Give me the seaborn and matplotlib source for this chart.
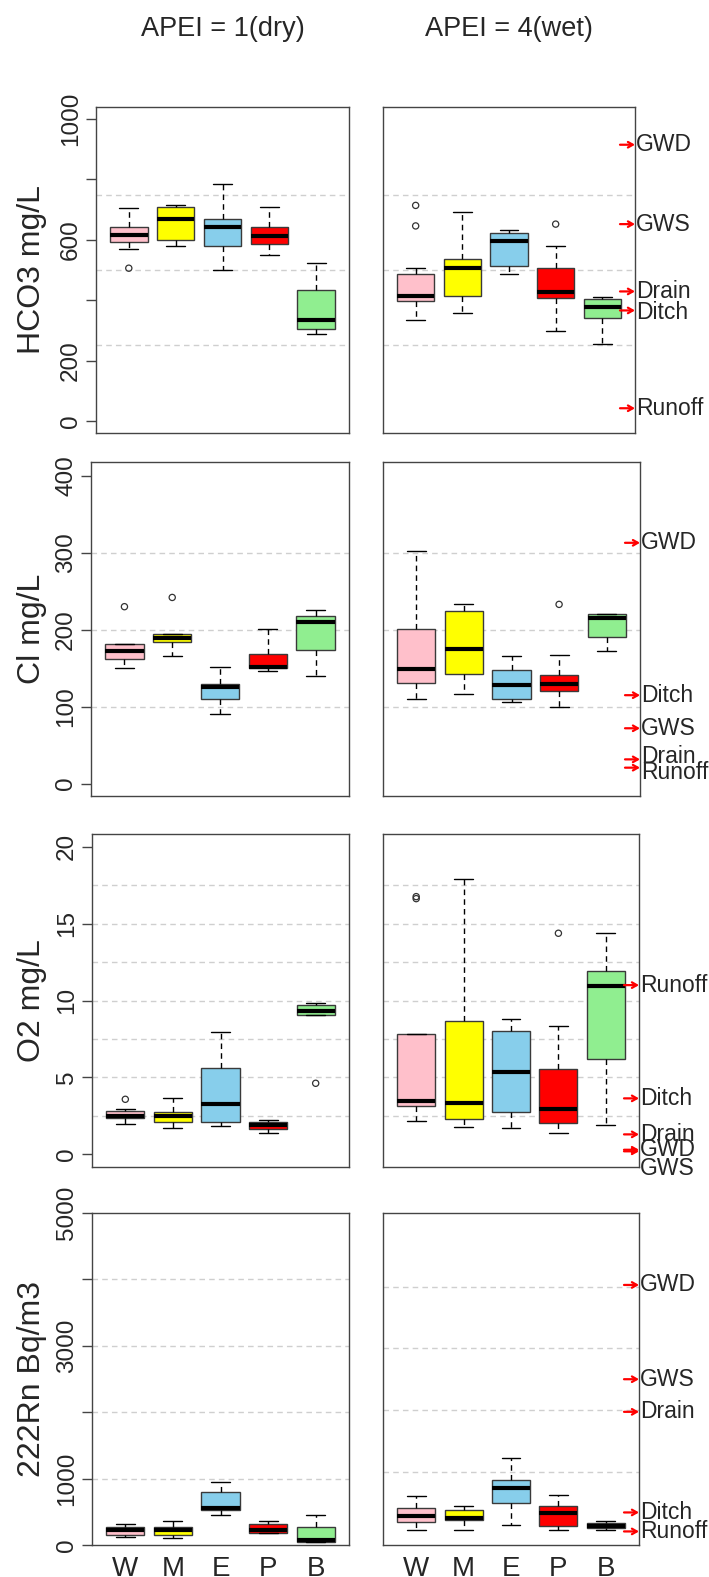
import numpy as np
import pandas as pd
import matplotlib
matplotlib.use("Agg")
import matplotlib.pyplot as plt
import seaborn as sns
from matplotlib.transforms import blended_transform_factory

# ---------------- data ----------------
sites = ["W", "M", "E", "P", "B"]
site_colors = ["#FFC0CB", "#FFFF00", "#87CEEB", "#FF0000", "#90EE90"]
col_titles = ["APEI = 1(dry)", "APEI = 4(wet)"]
row_labels = ["HCO3 mg/L", "Cl mg/L", "O2 mg/L", "222Rn Bq/m3"]

# each row: [lower whisker, Q1, median, Q3, upper whisker] for W, M, E, P, B
hco3_dry = [[571, 592, 617, 641, 705], [581, 598, 670, 708, 714], [501, 581, 644, 670, 785],
            [549, 586, 611, 641, 708], [287, 303, 333, 435, 522]]
hco3_wet = [[335, 397, 414, 486, 505], [358, 413, 508, 536, 693], [486, 513, 596, 622, 634],
            [299, 408, 427, 505, 581], [254, 340, 379, 403, 409]]
cl_dry = [[150, 162, 172, 181, 181], [166, 184, 189, 195, 195], [90, 110, 125, 130, 152],
          [146, 150, 151, 169, 201], [140, 174, 210, 218, 226]]
cl_wet = [[110, 131, 149, 201, 302], [117, 143, 175, 224, 234], [106, 110, 128, 148, 166],
          [100, 120, 130, 141, 167], [172, 191, 215, 220, 220]]
o2_dry = [[1.95, 2.36, 2.49, 2.80, 2.97], [1.71, 2.08, 2.49, 2.73, 3.68], [1.84, 2.08, 3.25, 5.63, 7.95],
          [1.37, 1.65, 1.91, 2.10, 2.25], [9.06, 9.06, 9.34, 9.69, 9.82]]
o2_wet = [[2.17, 3.14, 3.49, 7.82, 7.82], [1.78, 2.30, 3.32, 8.65, 17.88], [1.71, 2.73, 5.35, 8.00, 8.82],
          [1.37, 2.06, 2.97, 5.57, 8.36], [1.91, 6.18, 10.94, 11.92, 14.37]]
rn_dry = [[120, 151, 221, 271, 316], [105, 156, 231, 271, 356], [452, 532, 557, 793, 944],
          [176, 176, 231, 316, 356], [40, 50, 70, 271, 452]]
rn_wet = [[57, 187, 279, 408, 598], [57, 214, 246, 376, 436], [128, 484, 738, 868, 1224],
          [57, 111, 322, 436, 619], [52, 79, 117, 160, 192]]

# outliers (site, value)
hco3_dry_out_site, hco3_dry_out_val = ["W"], [506]
hco3_wet_out_site, hco3_wet_out_val = ["W", "W", "P"], [714, 646, 652]
cl_dry_out_site, cl_dry_out_val = ["W", "M"], [230, 242]
cl_wet_out_site, cl_wet_out_val = ["P"], [233]
o2_dry_out_site, o2_dry_out_val = ["W", "B"], [3.58, 4.62]
o2_wet_out_site, o2_wet_out_val = ["W", "W", "P"], [16.75, 16.62, 14.37]
rn_dry_out_site, rn_dry_out_val = [], []
rn_wet_out_site, rn_wet_out_val = [], []

# reference water sources (marked on the wet panels)
hco3_ref_names = ["GWD", "GWS", "Drain", "Ditch", "Runoff"]
hco3_ref_vals = [915, 652, 429, 366, 42]
cl_ref_names = ["GWD", "Ditch", "GWS", "Drain", "Runoff"]
cl_ref_vals = [313, 115, 72, 31.6, 20.8]
o2_ref_names = ["Runoff", "Ditch", "Drain", "GWD", "GWS"]
o2_ref_vals = [11.0, 3.64, 1.3, 0.30, 0.20]
rn_ref_names = ["GWD", "GWS", "Drain", "Ditch", "Runoff"]
rn_ref_vals = [4028, 2499, 1970, 338, 30]

# axis ticks
hco3_ticks = [0, 200, 400, 600, 800, 1000]
hco3_ticklabels = ["0", "200", "", "600", "", "1000"]
cl_ticks = [0, 100, 200, 300, 400]
cl_ticklabels = ["0", "100", "200", "300", "400"]
o2_ticks = [0, 5, 10, 15, 20]
o2_ticklabels = ["0", "5", "10", "15", "20"]
rn_ticks = [0, 1000, 2000, 3000, 4000, 5000]
rn_ticklabels = ["0", "1000", "", "3000", "", "5000"]

hco3_grid = [250, 500, 750]
cl_grid = [100, 200, 300]
o2_grid = [2.5, 5, 7.5, 10, 12.5, 15, 17.5]
rn_grid = [1000, 2000, 3000, 4000]

# ---------------- figure ----------------
sns.set_style("white")
plt.rcParams["font.family"] = ["Liberation Sans", "DejaVu Sans"]

W_PX, H_PX = 709, 1577
fig = plt.figure(figsize=(W_PX / 100, H_PX / 100), dpi=100)


def rect(x0, y0, x1, y1):
    return [x0 / W_PX, 1 - y1 / H_PX, (x1 - x0) / W_PX, (y1 - y0) / H_PX]


panel_rects = [
    [rect(96, 107, 349, 433), rect(383, 107, 635, 433)],
    [rect(91, 462, 349, 796), rect(383, 462, 640, 796)],
    [rect(92, 834, 349, 1167), rect(383, 834, 639, 1167)],
    [rect(92, 1213, 349, 1545), rect(383, 1213, 639, 1545)],
]

rows = [
    dict(stats=[hco3_dry, hco3_wet],
         outs=[(hco3_dry_out_site, hco3_dry_out_val), (hco3_wet_out_site, hco3_wet_out_val)],
         ylims=[(-40, 1040), (-40, 1040)], ticks=hco3_ticks, ticklabels=hco3_ticklabels,
         grid=hco3_grid, refs=(hco3_ref_names, hco3_ref_vals)),
    dict(stats=[cl_dry, cl_wet],
         outs=[(cl_dry_out_site, cl_dry_out_val), (cl_wet_out_site, cl_wet_out_val)],
         ylims=[(-16, 418), (-16, 418)], ticks=cl_ticks, ticklabels=cl_ticklabels,
         grid=cl_grid, refs=(cl_ref_names, cl_ref_vals)),
    dict(stats=[o2_dry, o2_wet],
         outs=[(o2_dry_out_site, o2_dry_out_val), (o2_wet_out_site, o2_wet_out_val)],
         ylims=[(-0.82, 20.82), (-0.82, 20.82)], ticks=o2_ticks, ticklabels=o2_ticklabels,
         grid=o2_grid, refs=(o2_ref_names, o2_ref_vals)),
    dict(stats=[rn_dry, rn_wet],
         outs=[(rn_dry_out_site, rn_dry_out_val), (rn_wet_out_site, rn_wet_out_val)],
         ylims=[(0, 5000), (-190, 5195)], ticks=rn_ticks, ticklabels=rn_ticklabels,
         grid=rn_grid, refs=(rn_ref_names, rn_ref_vals)),
]

# pixel nudges of some reference labels to avoid overlaps (row, name) -> px (up positive)
label_nudge = {(1, "Drain"): 3, (1, "Runoff"): -5, (2, "GWS"): -17, (0, "Ditch"): -2}

FRAME = "#444444"

for r, row in enumerate(rows):
    for c in range(2):
        ax = fig.add_axes(panel_rects[r][c])
        stats = row["stats"][c]
        recs = []
        for s, vals in zip(sites, stats):
            for v in vals:
                recs.append((s, v))
        df = pd.DataFrame(recs, columns=["site", "value"])

        for g in row["grid"]:
            ax.axhline(g, color="#cfcfcf", lw=1.0, ls=(0, (4, 3)), zorder=0.3)

        sns.boxplot(data=df, x="site", y="value", hue="site", order=sites, hue_order=sites,
                    palette=site_colors, saturation=1, legend=False, width=0.8,
                    whis=(0, 100), showfliers=False, linecolor="#3a3a3a", linewidth=1.0,
                    medianprops=dict(color="black", linewidth=3.0, solid_capstyle="butt"),
                    whiskerprops=dict(color="black", linestyle=(0, (4, 3)), linewidth=1.0),
                    capprops=dict(color="black", linewidth=1.0),
                    ax=ax)

        osites, ovals = row["outs"][c]
        if len(ovals):
            ax.scatter([sites.index(s) for s in osites], ovals, s=20, facecolors="none",
                       edgecolors="#333333", linewidths=0.9, zorder=5)

        ax.set_xlim(-0.7, 4.7)
        ax.set_ylim(*row["ylims"][c])
        ax.set_xlabel("")
        ax.set_ylabel("")
        for sp in ax.spines.values():
            sp.set_color(FRAME)
            sp.set_linewidth(1.0)

        ax.set_xticks(range(len(sites)))
        if r == 3:
            ax.set_xticklabels(sites, fontsize=20)
        else:
            ax.set_xticklabels([])
        ax.tick_params(axis="x", direction="out", length=7, width=1, color=FRAME, pad=1)

        if c == 0:
            ax.set_yticks(row["ticks"])
            ax.set_yticklabels(row["ticklabels"], fontsize=17.5, rotation=90, va="center")
            ax.tick_params(axis="y", direction="out", length=7, width=1, color=FRAME, pad=3, left=True)
        else:
            ax.set_yticks([])
            names, vals = row["refs"]
            trans = blended_transform_factory(ax.transAxes, ax.transData)
            for nm, v in zip(names, vals):
                ax.annotate("", xy=(1.0, v), xycoords=trans, xytext=(-15, 0),
                            textcoords="offset pixels", annotation_clip=False,
                            arrowprops=dict(arrowstyle="->,head_length=0.35,head_width=0.2",
                                            color="red", lw=1.6, shrinkA=0, shrinkB=0))
                ax.annotate(nm, xy=(1.0, v), xycoords=trans,
                            xytext=(1, label_nudge.get((r, nm), 0)), textcoords="offset pixels",
                            ha="left", va="center", fontsize=16.5, annotation_clip=False)

        if c == 0:
            bb = panel_rects[r][0]
            fig.text(32 / W_PX, bb[1] + bb[3] / 2, row_labels[r], rotation=90,
                     ha="center", va="center", fontsize=23)

for c, t in enumerate(col_titles):
    bb = panel_rects[0][c]
    fig.text(bb[0] + bb[2] / 2, 1 - 29 / H_PX, t, ha="center", va="center", fontsize=19.5)

fig.savefig("out.png", dpi=100)
